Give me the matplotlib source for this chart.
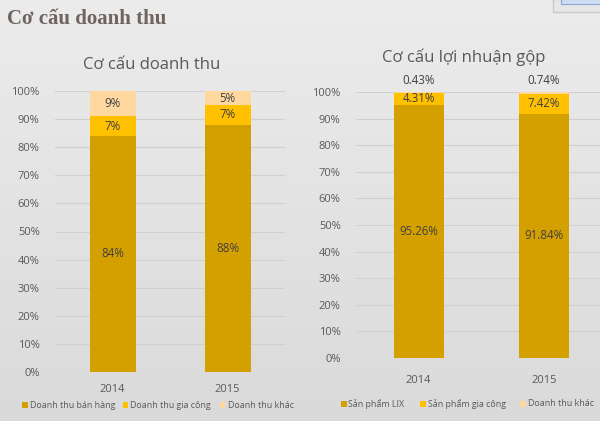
import numpy as np
import matplotlib
matplotlib.use("Agg")
import matplotlib.pyplot as plt
from matplotlib.patches import Rectangle

years = ["2014", "2015"]

# Cơ cấu doanh thu (%)
dt_ban_hang = [84, 88]
dt_gia_cong = [7, 7]
dt_khac = [9, 5]

# Cơ cấu lợi nhuận gộp (%)
ln_lix = [95.26, 91.84]
ln_gia_cong = [4.31, 7.42]
ln_khac = [0.43, 0.74]

c1, c2, c3 = "#D4A000", "#FFC000", "#FFD8A0"
txt = "#595959"
plt.rcParams["font.family"] = ["Open Sans", "DejaVu Sans"]

W, H = 600, 421
fig = plt.figure(figsize=(6, 4.21), dpi=100)

# gradient background
bg = fig.add_axes([0, 0, 1, 1], zorder=-5)
grad = np.linspace(0.925, 0.855, 256).reshape(-1, 1)
bg.imshow(np.dstack([grad, grad, grad]), aspect="auto", extent=[0, 1, 0, 1])
bg.set_xlim(0, 1)
bg.set_ylim(0, 1)
bg.axis("off")
# small box top right
bg.add_patch(Rectangle((553 / W, 1 - 11.5 / H), 50 / W, 12 / H, facecolor="#e6e6e6",
                       edgecolor="#c8c8c8", lw=1))
bg.add_patch(Rectangle((561 / W, 1 - 4 / H), 40 / W, 5 / H, facecolor="#cfe0f5",
                       edgecolor="#8aa6cf", lw=0.8))

fig.text(7 / W, 1 - 19 / H, "Cơ cấu doanh thu", family=["Liberation Serif"],
         fontsize=15, fontweight="bold", color="#6f6560", va="center")


def stacked(ax, s1, s2, s3, labels_fmt, small_top):
    x = np.arange(len(years))
    b1 = np.array(s1) / 100
    b2 = np.array(s2) / 100
    b3 = np.array(s3) / 100
    ax.bar(x, b1, 0.4, color=c1, zorder=2)
    ax.bar(x, b2, 0.4, bottom=b1, color=c2, zorder=2)
    ax.bar(x, b3, 0.4, bottom=b1 + b2, color=c3, zorder=2)
    for i in range(len(x)):
        ax.text(x[i], b1[i] / 2, labels_fmt.format(s1[i]), ha="center", va="center",
                fontsize=8.3, color="#404040")
        ax.text(x[i], b1[i] + b2[i] / 2, labels_fmt.format(s2[i]), ha="center",
                va="center", fontsize=8.3, color="#404040")
        if small_top:
            ax.text(x[i], 1.0 + 0.018, labels_fmt.format(s3[i]), ha="center",
                    va="bottom", fontsize=8.3, color="#404040")
        else:
            ax.text(x[i], b1[i] + b2[i] + b3[i] / 2, labels_fmt.format(s3[i]),
                    ha="center", va="center", fontsize=8.3, color="#404040")
    ax.set_ylim(0, 1)
    ax.set_yticks(np.arange(0, 1.01, 0.1))
    ax.set_yticklabels([f"{int(round(v * 100))}%" for v in np.arange(0, 1.01, 0.1)])
    ax.set_xticks(x)
    ax.set_xticklabels(years)
    ax.tick_params(length=0, labelsize=8, labelcolor=txt)
    ax.tick_params(axis="y", pad=11)
    ax.tick_params(axis="x", pad=9)
    ax.grid(axis="y", color="#d0d0d0", lw=0.8, zorder=0)
    ax.set_facecolor("none")
    for s in ax.spines.values():
        s.set_visible(False)


ax1 = fig.add_axes([55 / W, 1 - 372 / H, 230 / W, 281 / H])
stacked(ax1, dt_ban_hang, dt_gia_cong, dt_khac, "{:.0f}%", False)
ax1.set_xlim(-0.5, 1.5)
fig.text(152 / W, 1 - 65 / H, "Cơ cấu doanh thu", ha="center", va="center",
         fontsize=12, color=txt)

ax2 = fig.add_axes([356 / W, 1 - 358 / H, 244 / W, 266 / H])
stacked(ax2, ln_lix, ln_gia_cong, ln_khac, "{:.2f}%", True)
ax2.set_xlim(-0.5, 1.45)
ax2.tick_params(axis="x", pad=12)
fig.text(464 / W, 1 - 57 / H, "Cơ cấu lợi nhuận gộp", ha="center", va="center",
         fontsize=12, color=txt)


def legend(items, y):
    for xs, label, col in items:
        bg.add_patch(Rectangle((xs / W, 1 - (y + 3) / H), 5.5 / W, 6 / H, facecolor=col,
                               edgecolor="none"))
        fig.text((xs + 7.5) / W, 1 - y / H, label, fontsize=6.4, color=txt, va="center")


legend([(22, "Doanh thu bán hàng", c1), (123, "Doanh thu gia công", c2),
        (220, "Doanh thu khác", c3)], 405)
legend([(341, "Sản phẩm LIX", c1), (420, "Sản phẩm gia công", c2),
        (520, "Doanh thu khác", c3)], 404)

fig.savefig("out.png", dpi=100)
